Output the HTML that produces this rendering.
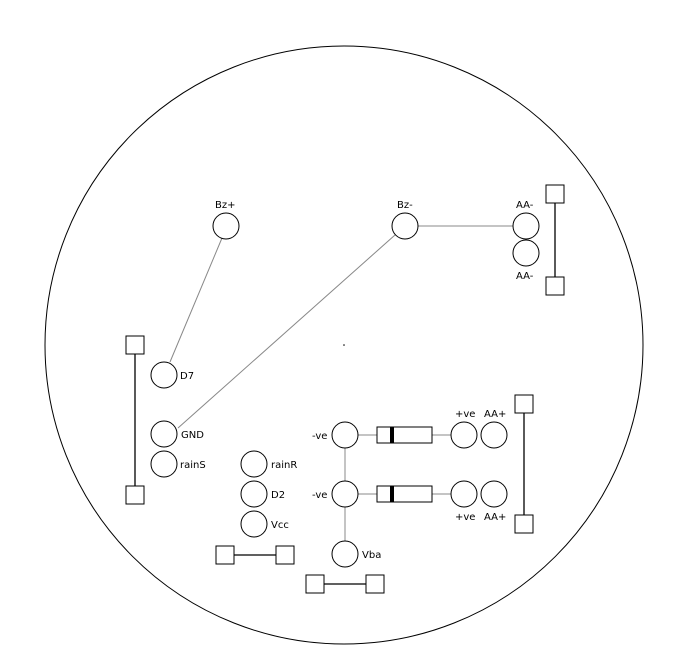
<!DOCTYPE html>
<html><head><meta charset="utf-8"><style>
html,body{margin:0;padding:0;background:#fff}
svg{display:block}
text{font-family:"DejaVu Sans","Liberation Sans",sans-serif;font-size:10px;fill:#000}
</style></head><body>
<svg width="685" height="661" viewBox="0 0 685 661">
<circle cx="344" cy="345" r="299" fill="none" stroke="#000" stroke-width="1"/>
<circle cx="344" cy="345" r="0.8" fill="#000"/>
<g stroke="#888" stroke-width="1">
<line x1="222" y1="238" x2="170" y2="362"/>
<line x1="395" y1="235" x2="178" y2="428"/>
<line x1="418" y1="226" x2="513" y2="226"/>
<line x1="345" y1="448" x2="345" y2="481"/>
<line x1="345" y1="507" x2="345" y2="541"/>
<line x1="358" y1="435" x2="377" y2="435"/>
<line x1="432" y1="435" x2="451" y2="435"/>
<line x1="358" y1="494" x2="377" y2="494"/>
<line x1="432" y1="494" x2="451" y2="494"/>
</g>
<g stroke="#000" stroke-width="1.3">
<line x1="555" y1="203" x2="555" y2="277"/>
<line x1="135" y1="354" x2="135" y2="486"/>
<line x1="234" y1="555" x2="276" y2="555"/>
<line x1="324" y1="584" x2="366" y2="584"/>
<line x1="524" y1="413" x2="524" y2="515"/>
</g>
<g fill="#fff" stroke="#000">
<rect x="546" y="185" width="18" height="18"/>
<rect x="546" y="277" width="18" height="18"/>
<rect x="126" y="336" width="18" height="18"/>
<rect x="126" y="486" width="18" height="18"/>
<rect x="216" y="546" width="18" height="18"/>
<rect x="276" y="546" width="18" height="18"/>
<rect x="306" y="575" width="18" height="18"/>
<rect x="366" y="575" width="18" height="18"/>
<rect x="515" y="395" width="18" height="18"/>
<rect x="515" y="515" width="18" height="18"/>
</g>
<g>
<rect x="377" y="427" width="55" height="16" fill="#fff" stroke="#000"/>
<rect x="390" y="427" width="4" height="16" fill="#000"/>
<rect x="377" y="486" width="55" height="16" fill="#fff" stroke="#000"/>
<rect x="390" y="486" width="4" height="16" fill="#000"/>
</g>
<g fill="#fff" stroke="#000">
<circle cx="226" cy="226" r="13"/>
<circle cx="405" cy="226" r="13"/>
<circle cx="526" cy="226" r="13"/>
<circle cx="526" cy="253" r="13"/>
<circle cx="164" cy="375" r="13"/>
<circle cx="164" cy="434" r="13"/>
<circle cx="164" cy="464" r="13"/>
<circle cx="254" cy="464" r="13"/>
<circle cx="254" cy="494" r="13"/>
<circle cx="254" cy="524" r="13"/>
<circle cx="345" cy="435" r="13"/>
<circle cx="345" cy="494" r="13"/>
<circle cx="345" cy="554" r="13"/>
<circle cx="464" cy="435" r="13"/>
<circle cx="494" cy="435" r="13"/>
<circle cx="464" cy="494" r="13"/>
<circle cx="494" cy="494" r="13"/>
</g>
<g>
<text x="215" y="208">Bz+</text>
<text x="397" y="208">Bz-</text>
<text x="516" y="208">AA-</text>
<text x="516" y="279">AA-</text>
<text x="180" y="379">D7</text>
<text x="181" y="438">GND</text>
<text x="180" y="468">rainS</text>
<text x="271" y="468">rainR</text>
<text x="271" y="498">D2</text>
<text x="271" y="528">Vcc</text>
<text x="312" y="439">-ve</text>
<text x="312" y="498">-ve</text>
<text x="362" y="558">Vba</text>
<text x="455" y="417">+ve</text>
<text x="484" y="417">AA+</text>
<text x="455" y="520">+ve</text>
<text x="484" y="520">AA+</text>
</g>
</svg>
</body></html>
